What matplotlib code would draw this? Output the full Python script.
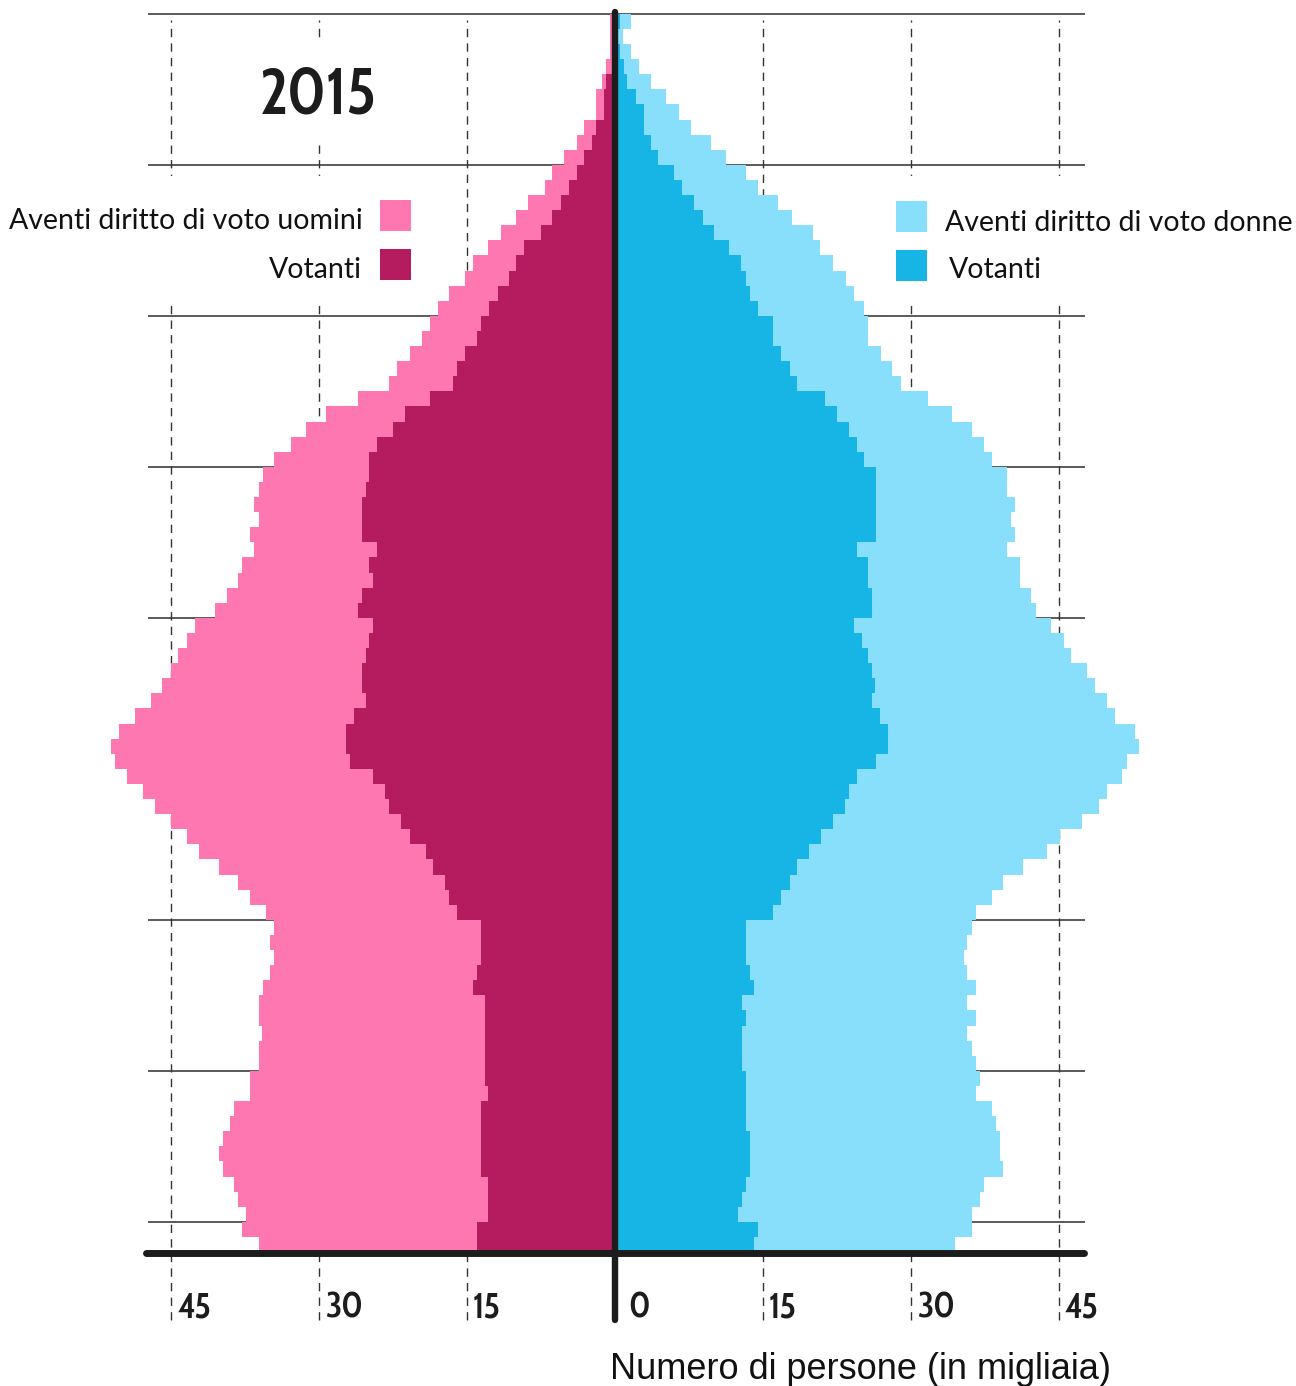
import matplotlib.pyplot as plt
import numpy as np
from matplotlib import font_manager as fm
from matplotlib.patches import Rectangle
from matplotlib.textpath import TextPath

# one row per year of age, 18..99
ages = np.arange(18, 100)

men_eligible = [36.1, 37.8, 37.4, 38.2, 38.6, 39.8, 40.2, 39.8, 39.0, 38.6,
                37.0, 37.0, 36.1, 36.1, 35.8, 36.1, 36.1, 35.7, 35.0, 34.6,
                35.0, 34.6, 35.4, 37.0, 38.2, 40.2, 42.2, 43.4, 45.0, 46.7,
                47.9, 49.5, 50.7, 51.1, 50.3, 48.7, 47.1, 45.9, 45.0, 44.3,
                43.4, 42.6, 40.6, 39.4, 38.2, 37.8, 36.6, 37.0, 36.1, 36.6,
                36.1, 35.7, 34.6, 32.9, 31.3, 29.3, 26.1, 22.9, 22.1, 20.8,
                19.6, 18.8, 18.0, 16.8, 15.2, 14.4, 12.9, 11.6, 10.0, 8.8,
                7.1, 6.4, 5.2, 3.9, 3.1, 1.9, 1.9, 1.3, 0.9, 0.5,
                0.5, 0.5]
men_voters = [14.0, 14.0, 12.9, 12.9, 12.9, 13.6, 13.6, 13.6, 13.6, 13.6,
              12.9, 13.2, 13.2, 13.2, 13.2, 13.2, 13.2, 14.4, 14.0, 13.6,
              13.6, 13.6, 16.0, 16.8, 17.2, 18.5, 19.2, 20.8, 21.7, 22.9,
              23.3, 24.5, 26.9, 27.3, 27.3, 26.5, 25.3, 25.7, 25.7, 25.3,
              24.9, 24.5, 26.1, 25.7, 24.5, 24.9, 24.1, 25.7, 25.7, 25.7,
              25.3, 24.9, 24.9, 24.1, 22.5, 21.3, 18.8, 16.4, 16.0, 15.2,
              14.0, 13.6, 12.8, 11.9, 10.8, 10.0, 9.2, 7.5, 6.4, 5.5,
              4.7, 3.9, 3.1, 2.3, 1.9, 1.1, 1.1, 0.9, 0.3, 0.2,
              0.1, 0.1]
women_eligible = [34.5, 36.2, 36.2, 37.0, 37.4, 39.4, 39.0, 39.0, 38.6, 38.2,
                  36.6, 37.0, 36.6, 36.2, 35.7, 36.6, 35.7, 36.6, 35.7, 35.4,
                  35.7, 36.2, 36.6, 38.2, 39.4, 41.4, 43.8, 45.1, 47.4, 49.1,
                  49.9, 51.4, 51.9, 53.1, 52.7, 50.7, 49.9, 48.7, 47.9, 46.2,
                  45.5, 44.2, 42.7, 42.2, 41.1, 41.1, 39.8, 40.6, 40.2, 40.6,
                  39.8, 39.8, 38.2, 37.4, 36.2, 34.2, 31.7, 29.0, 28.1, 27.0,
                  25.7, 25.7, 25.3, 24.2, 23.4, 22.1, 20.8, 20.1, 18.0, 16.5,
                  14.5, 13.3, 11.3, 9.7, 7.7, 6.5, 5.2, 3.7, 2.4, 1.6,
                  0.8, 1.6]
women_voters = [14.1, 14.5, 12.5, 12.9, 13.3, 13.7, 13.7, 13.7, 13.3, 13.3,
                13.3, 13.3, 12.9, 12.9, 12.9, 13.3, 12.9, 14.1, 13.7, 13.3,
                13.3, 13.3, 16.0, 16.8, 17.7, 18.5, 19.7, 20.9, 22.1, 23.3,
                23.7, 24.5, 26.5, 27.7, 27.7, 26.9, 26.1, 26.4, 26.1, 25.7,
                25.0, 24.2, 26.1, 26.1, 25.7, 25.7, 24.5, 26.5, 26.5, 26.5,
                26.5, 26.5, 25.3, 24.5, 23.7, 22.5, 21.3, 18.5, 17.7, 16.8,
                16.0, 16.0, 14.5, 13.7, 13.3, 12.8, 11.6, 10.0, 8.9, 8.0,
                6.8, 6.0, 4.4, 3.7, 2.9, 2.9, 2.1, 1.2, 0.9, 0.5,
                0.3, 0.5]

tick_values = [-45, -30, -15, 0, 15, 30, 45]
tick_labels = ['45', '30', '15', '0', '15', '30', '45']

c_men_el = '#FF77B0'
c_men_vo = '#B51C60'
c_wom_el = '#88DFFC'
c_wom_vo = '#17B4E6'

W, H = 1296, 1386
X0, SX = 615.0, 9.86    # pixel of zero, pixels per thousand
Y0, SY = 1252.0, 15.1   # pixel of age 18, pixels per year


def dx(p):
    return (p - X0) / SX


def dy(p):
    return 18 + (Y0 - p) / SY


def pick_digit_font(target_ratio, wmin=500, wmax=600):
    # narrowest-looking installed face: '2015' ink width / digit height closest to target
    best = None
    for f in fm.fontManager.ttflist:
        if f.style != 'normal' or any(s in f.name for s in ('CJK', 'Mono', 'Serif', 'Math')):
            continue
        w = f.weight if isinstance(f.weight, (int, float)) else fm.weight_dict.get(f.weight, 400)
        if not wmin <= w <= wmax:
            continue
        prop = fm.FontProperties(fname=f.fname)
        try:
            ext = TextPath((0, 0), '2015', size=100, prop=prop).get_extents()
        except Exception:
            continue
        score = abs(ext.width / ext.height - target_ratio)
        if best is None or score < best[0]:
            best = (score, prop, ext.height)
    if best is None:
        return fm.FontProperties(family='DejaVu Sans', weight='bold'), 73.0
    return best[1], best[2]


fig = plt.figure(figsize=(W / 100, H / 100), dpi=100)
ax = fig.add_axes([0, 0, 1, 1])
ax.set_xlim(dx(0), dx(W))
ax.set_ylim(dy(H), dy(0))
ax.axis('off')

# grid
ax.hlines(np.arange(20, 101, 10), dx(148), dx(1085), color='#5a5a5a', lw=1.4, zorder=1)
for v in tick_values:
    if v != 0:
        ax.vlines(v, dy(1320), dy(20), colors='#333333', lw=1.0,
                  linestyles=(0, (6, 4.5)), zorder=1)

# white boxes behind the title and legends
for x0, y0, x1, y1 in [(250, 40, 388, 142), (0, 176, 420, 302), (880, 176, W, 304)]:
    ax.add_patch(Rectangle((dx(x0), dy(y1)), (x1 - x0) / SX, (y1 - y0) / SY,
                           facecolor='white', edgecolor='none', zorder=2))

edges = np.append(ages, ages[-1] + 1)
ax.stairs(-np.array(men_eligible), edges, orientation='horizontal', baseline=0,
          fill=True, color=c_men_el, zorder=3)
ax.stairs(-np.array(men_voters), edges, orientation='horizontal', baseline=0,
          fill=True, color=c_men_vo, zorder=4)
ax.stairs(women_eligible, edges, orientation='horizontal', baseline=0,
          fill=True, color=c_wom_el, zorder=3)
ax.stairs(women_voters, edges, orientation='horizontal', baseline=0,
          fill=True, color=c_wom_vo, zorder=4)

# axes lines
ax.plot([0, 0], [dy(1320), dy(12)], color='#1c1c1c', lw=4.6, solid_capstyle='round', zorder=6)
ax.plot([dx(146), dx(1084)], [dy(1253), dy(1253)], color='#1c1c1c', lw=5,
        solid_capstyle='round', zorder=6)

num_font, digit_h = pick_digit_font(112 / 46.7)
for v, lab in zip(tick_values, tick_labels):
    xp = X0 + v * SX + (13 if v == 0 else 6)
    ax.text(dx(xp), dy(1318), lab, ha='left', va='baseline', fontproperties=num_font,
            fontsize=26 * 72 / digit_h, color='#1c1c1c')

ax.text(dx(318), dy(113), '2015', ha='center', va='baseline', fontproperties=num_font,
        fontsize=46.7 * 72 / digit_h, color='#1c1c1c', zorder=7)

ax.text(dx(610), dy(1379), 'Numero di persone (in migliaia)', ha='left', va='baseline',
        fontsize=26, family=['Liberation Sans', 'DejaVu Sans'], color='#111111')

# legends
leg = ['Lato', 'DejaVu Sans']
for (x0, y0), col in [((380, 200), c_men_el), ((380, 249), c_men_vo),
                      ((896, 201), c_wom_el), ((896, 250), c_wom_vo)]:
    ax.add_patch(Rectangle((dx(x0), dy(y0 + 31)), 31 / SX, 31 / SY,
                           facecolor=col, edgecolor='none', zorder=7))
ax.text(dx(363), dy(229), 'Aventi diritto di voto uomini', ha='right', va='baseline',
        fontsize=20.5, family=leg, color='#111111', zorder=7)
ax.text(dx(362), dy(278), 'Votanti', ha='right', va='baseline',
        fontsize=20.5, family=leg, color='#111111', zorder=7)
ax.text(dx(945), dy(231), 'Aventi diritto di voto donne', ha='left', va='baseline',
        fontsize=20.5, family=leg, color='#111111', zorder=7)
ax.text(dx(949), dy(278), 'Votanti', ha='left', va='baseline',
        fontsize=20.5, family=leg, color='#111111', zorder=7)

fig.savefig('out.png', dpi=100)
